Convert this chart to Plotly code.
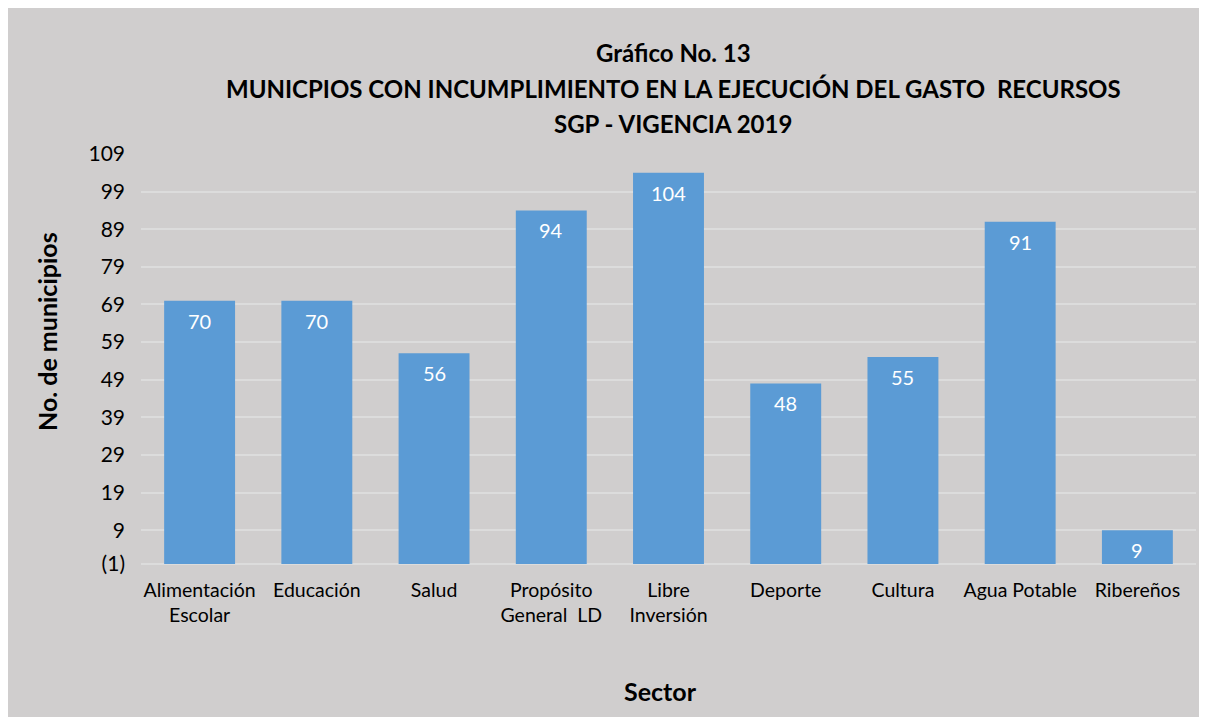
import plotly.graph_objects as go

categories = ["Alimentación<br>Escolar", "Educación", "Salud", "Propósito<br>General  LD",
              "Libre<br>Inversión", "Deporte", "Cultura", "Agua Potable", "Ribereños"]
values = [70, 70, 56, 94, 104, 48, 55, 91, 9]
tick_vals = [0, 9, 19, 29, 39, 49, 59, 69, 79, 89, 99, 109]
tick_text = ["(1)", "9", "19", "29", "39", "49", "59", "69", "79", "89", "99", "109"]

title_lines = ["Gráfico No. 13",
               "MUNICPIOS CON INCUMPLIMIENTO EN LA EJECUCIÓN DEL GASTO  RECURSOS",
               "SGP - VIGENCIA 2019"]
x_title = "Sector"
y_title = "No. de municipios"

FONT = "Lato"
BG = "#d0cece"
BAR = "#5b9bd5"
GRID = "#dcdcdc"
BORDER = "#a6a6a6"

# page body has an 8px margin; work in figure coordinates = screen - 8
OFF = 8
W, H = 1207 - OFF, 717 - OFF
PL, PR = 141 - OFF, 1196 - OFF     # plot left/right in figure px
PT, PB = 154 - OFF, 564 - OFF      # plot top/bottom in figure px
PW, PH = PR - PL, PB - PT


def px(xs):
    return (xs - OFF - PL) / PW


def py(ys):
    return (PB - (ys - OFF)) / PH


fig = go.Figure()
fig.add_trace(go.Bar(
    x=categories, y=values, marker=dict(color=BAR, line=dict(width=0)),
    hoverinfo="x+y",
))

for c, v in zip(categories, values):
    fig.add_annotation(x=c, y=v, xref="x", yref="y", text=str(v), showarrow=False,
                       yshift=-20, font=dict(family=FONT, size=20, color="white"))

for line, ys in zip(title_lines, [52, 88, 124]):
    fig.add_annotation(x=px(673), y=py(ys), xref="paper", yref="paper",
                       text="<b>" + line + "</b>", showarrow=False,
                       xanchor="center", yanchor="middle",
                       font=dict(family=FONT, size=24, color="black"))

fig.add_annotation(x=px(47), y=py(332), xref="paper", yref="paper",
                   text="<b>" + y_title + "</b>", textangle=-90, showarrow=False,
                   xanchor="center", yanchor="middle",
                   font=dict(family=FONT, size=25, color="black"))
fig.add_annotation(x=px(660), y=py(691), xref="paper", yref="paper",
                   text="<b>" + x_title + "</b>", showarrow=False,
                   xanchor="center", yanchor="middle",
                   font=dict(family=FONT, size=25, color="black"))

fig.add_shape(type="rect", xref="paper", yref="paper", layer="below",
              x0=px(6), x1=px(1240), y0=py(760), y1=py(5),
              fillcolor=BG, line=dict(width=0))
fig.add_shape(type="line", xref="paper", yref="paper", layer="below",
              x0=px(6), x1=px(1240), y0=py(5), y1=py(5),
              line=dict(color=BORDER, width=1))
fig.add_shape(type="line", xref="paper", yref="paper", layer="below",
              x0=px(6), x1=px(6), y0=py(5), y1=py(760),
              line=dict(color=BORDER, width=1))

fig.update_layout(
    width=W, height=H,
    margin=dict(l=PL, r=W - PR, t=PT, b=H - PB),
    paper_bgcolor="white", plot_bgcolor="rgba(0,0,0,0)",
    bargap=0.395,
    showlegend=False,
    font=dict(family=FONT, size=19.5, color="black"),
    xaxis=dict(showgrid=False, showline=False, zeroline=False,
               ticklabelstandoff=12,
               tickfont=dict(family=FONT, size=19.5, color="black"), ticks=""),
    yaxis=dict(range=[0, 109], tickvals=tick_vals, ticktext=tick_text,
               showgrid=True, gridcolor=GRID, gridwidth=1.5, zeroline=True,
               zerolinecolor=GRID, zerolinewidth=2, showline=False,
               ticklabelstandoff=15,
               tickfont=dict(family=FONT, size=21, color="black")),
)

fig.write_html("out.html")
